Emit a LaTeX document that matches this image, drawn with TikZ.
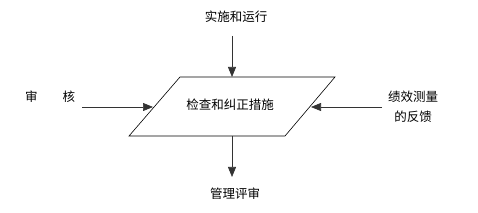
\documentclass[tikz,border=0pt]{standalone}
\usepackage{fontspec}
\setmainfont{Noto Sans CJK SC}
\usetikzlibrary{arrows.meta}

\begin{document}
\begin{tikzpicture}[x=1pt, y=-1pt, font=\fontsize{12.5}{20}\selectfont,
    flow/.style={draw=black!80, line width=0.7pt, -{Triangle[length=10pt,width=8pt]}},
    label/.style={inner sep=0pt, align=center}]
    \useasboundingbox (0,0) rectangle (478,213);

    % Central step (parallelogram)
    \draw[line width=0.6pt] (180,77) -- (335,77) -- (285,136) -- (129,136) -- cycle;
    \node[label] (check) at (230,105) {检查和纠正措施};

    % Points on the sides of the parallelogram
    \coordinate (checkTop) at (232,77);
    \coordinate (checkBottom) at (232,136);
    \coordinate (checkLeft) at (153,107);
    \coordinate (checkRight) at (311,107);

    % Inputs and output
    \node[label] (run) at (236,17) {实施和运行};
    \node[label] (audit) at (50,97) {审　　核};
    \node[label] (perf) at (413,107) {绩效测量\\的反馈};
    \node[label] (review) at (235,194) {管理评审};

    % Connector ends
    \coordinate (runEnd) at (232,36);
    \coordinate (auditEnd) at (82,107);
    \coordinate (perfEnd) at (382,107);
    \coordinate (reviewEnd) at (232,177);

    % Arrows
    \draw[flow] (runEnd) -- (checkTop);
    \draw[flow] (auditEnd) -- (checkLeft);
    \draw[flow] (perfEnd) -- (checkRight);
    \draw[flow] (checkBottom) -- (reviewEnd);
\end{tikzpicture}
\end{document}
